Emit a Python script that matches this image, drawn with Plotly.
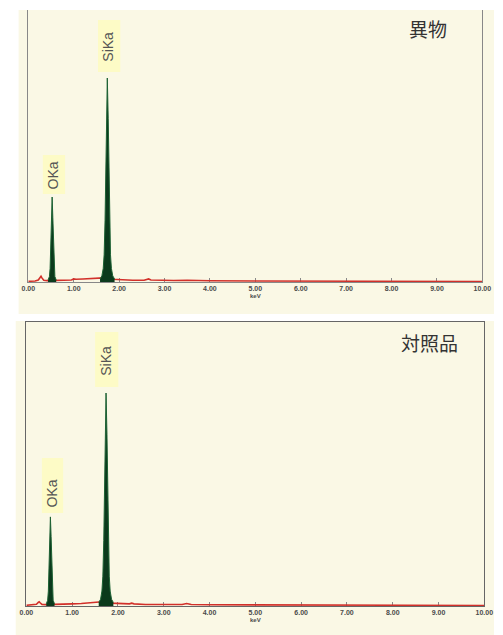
import plotly.graph_objects as go

W, H = 503, 635  # reference pixel frame used for placing layout elements

# ---------------- data ----------------
panel_titles = ["異物", "対照品"]
peak_names = ["OKa", "SiKa"]
tick_vals = [0, 1, 2, 3, 4, 5, 6, 7, 8, 9, 10]
tick_text = ["0.00", "1.00", "2.00", "3.00", "4.00", "5.00",
             "6.00", "7.00", "8.00", "9.00", "10.00"]

# background spectrum (red), keV / counts
bg_kev_top = [0.0, 0.15, 0.22, 0.26, 0.28, 0.30, 0.34, 0.42, 0.60, 0.80, 0.95, 1.00,
              1.05, 1.20, 1.40, 1.55, 1.65, 1.85, 1.95, 2.10, 2.30, 2.55, 2.62, 2.65,
              2.70, 2.90, 3.20, 3.50, 4.00, 5.00, 6.00, 7.00, 8.00, 9.00, 10.00]
bg_cnt_top = [10, 15, 30, 70, 85, 60, 25, 20, 20, 25, 30, 45,
              40, 45, 50, 60, 60, 40, 35, 30, 25, 25, 40, 45,
              30, 25, 22, 25, 18, 15, 12, 10, 10, 8, 8]

bg_kev_bot = [0.0, 0.15, 0.22, 0.26, 0.28, 0.30, 0.34, 0.42, 0.60, 0.80, 1.00,
              1.20, 1.40, 1.55, 1.65, 1.85, 1.95, 2.10, 2.25, 2.30, 2.35, 2.60,
              3.00, 3.40, 3.50, 3.60, 4.00, 5.00, 6.00, 7.00, 8.00, 9.00, 10.00]
bg_cnt_bot = [10, 15, 25, 50, 60, 45, 22, 20, 20, 22, 30,
              35, 45, 55, 60, 40, 35, 28, 30, 40, 30, 22,
              20, 22, 35, 22, 18, 15, 12, 10, 10, 8, 8]

# O Ka peak
o_kev = [0.435, 0.465, 0.48, 0.495, 0.51, 0.525, 0.54, 0.555, 0.57, 0.585, 0.615]
o_cnt_top = [30, 80, 200, 500, 950, 1250, 950, 500, 200, 80, 30]
o_cnt_bot = [30, 80, 210, 520, 980, 1255, 980, 520, 210, 80, 30]

# Si Ka peak
si_kev = [1.58, 1.62, 1.65, 1.67, 1.69, 1.705, 1.72, 1.74, 1.76, 1.775,
          1.79, 1.81, 1.83, 1.86, 1.90]
si_cnt_top = [45, 90, 200, 400, 900, 1600, 2400, 3000, 2400, 1600,
              900, 400, 200, 90, 45]
si_cnt_bot = [50, 95, 210, 420, 920, 1620, 2420, 3000, 2420, 1620,
              920, 420, 210, 95, 50]

Y_MAX = 4000

# ---------------- styling / layout ----------------
def px(x):
    return x / W


def py(y):
    return 1 - y / H


BEIGE = "#faf8e5"
LABEL_BG = "#fdfbc6"
GREEN_FILL = "#0b3a1c"
GREEN_LINE = "#1d6234"
RED = "#d2302a"
AXIS = "#888888"

fig = go.Figure()

panels = [
    dict(bgx=bg_kev_top, bgy=bg_cnt_top, oy=o_cnt_top, siy=si_cnt_top, xa="x", ya="y"),
    dict(bgx=bg_kev_bot, bgy=bg_cnt_bot, oy=o_cnt_bot, siy=si_cnt_bot, xa="x2", ya="y2"),
]

for p in panels:
    fig.add_trace(go.Scatter(x=p["bgx"], y=p["bgy"], mode="lines",
                             line=dict(color=RED, width=1.6),
                             xaxis=p["xa"], yaxis=p["ya"], hoverinfo="skip"))
    for xs, ys in ((o_kev, p["oy"]), (si_kev, p["siy"])):
        fig.add_trace(go.Scatter(x=xs, y=ys, mode="lines", fill="tozeroy",
                                 fillcolor=GREEN_FILL,
                                 line=dict(color=GREEN_LINE, width=1),
                                 xaxis=p["xa"], yaxis=p["ya"], hoverinfo="skip"))

xcommon = dict(range=[0, 10], tickvals=tick_vals, ticktext=tick_text,
               ticks="inside", ticklen=4, tickcolor=AXIS, tickwidth=1,
               showline=True, linecolor=AXIS, linewidth=1, showgrid=False,
               zeroline=False, layer="below traces",
               tickfont=dict(family="Liberation Sans", size=7, color="#4a4a4a",
                             weight="bold"),
               title=dict(text="keV", standoff=2,
                          font=dict(family="Liberation Sans", size=6, color="#4a4a4a",
                                    weight="bold")))
ycommon = dict(range=[0, Y_MAX], showticklabels=False, ticks="", showgrid=False,
               zeroline=False, showline=True, linecolor=AXIS, linewidth=1,
               mirror=True)

fig.update_layout(
    autosize=True,
    margin=dict(l=0, r=0, t=0, b=0, pad=0),
    paper_bgcolor="white", plot_bgcolor="rgba(0,0,0,0)",
    showlegend=False,
    xaxis=dict(domain=[px(22), px(491)], anchor="y", **xcommon),
    yaxis=dict(domain=[py(282), py(10)], anchor="x", **ycommon),
    xaxis2=dict(domain=[px(20), px(493)], anchor="y2", mirror=True, **xcommon),
    yaxis2=dict(domain=[py(606), py(322)], anchor="x2", **ycommon),
)
fig.update_layout(yaxis2=dict(linecolor="#666666"), xaxis2=dict(linecolor="#666666"))

shapes = [
    dict(type="rect", xref="paper", yref="paper", x0=px(12), x1=1.0,
         y0=py(314), y1=py(10), fillcolor=BEIGE, line=dict(width=0), layer="below"),
    dict(type="rect", xref="paper", yref="paper", x0=px(9), x1=1.0,
         y0=0.0, y1=py(321), fillcolor=BEIGE, line=dict(width=0), layer="below"),
]
# label boxes: (x0, x1, y0, y1) in pixels
boxes = [(94, 117, 20, 72), (37, 60, 155, 194), (91, 115, 332, 387), (36, 58, 458, 513)]
for x0, x1, y0, y1 in boxes:
    shapes.append(dict(type="rect", xref="paper", yref="paper",
                       x0=px(x0), x1=px(x1), y0=py(y1), y1=py(y0),
                       fillcolor=LABEL_BG, line=dict(width=0), layer="below"))
fig.update_layout(shapes=shapes)

annotations = []
label_pos = [("SiKa", 104, 47), ("OKa", 47, 176), ("SiKa", 102, 361), ("OKa", 46, 494)]
for text, x, y in label_pos:
    annotations.append(dict(text=text, xref="paper", yref="paper", x=px(x), y=py(y),
                            showarrow=False, textangle=-90, xanchor="center",
                            yanchor="middle",
                            font=dict(family="Liberation Sans", size=14, color="#555555")))
title_pos = [(435, 29), (436, 343)]
for t, (x, y) in zip(panel_titles, title_pos):
    annotations.append(dict(text=t, xref="paper", yref="paper", x=px(x), y=py(y),
                            showarrow=False, xanchor="center", yanchor="middle",
                            font=dict(family="Noto Sans CJK JP", size=19, color="#333333")))
fig.update_layout(annotations=annotations)

fig.write_html(
    "out.html",
    default_width="100vw",
    default_height="100vh",
    config={"displayModeBar": False, "responsive": True},
    post_script=(
        "document.documentElement.style.margin='0';"
        "document.documentElement.style.overflow='hidden';"
        "document.body.style.margin='0';document.body.style.padding='0';"
        "document.body.style.overflow='hidden';"
        "var gd=document.getElementById('{plot_id}');"
        "Plotly.Plots.resize(gd);"
    ),
)
